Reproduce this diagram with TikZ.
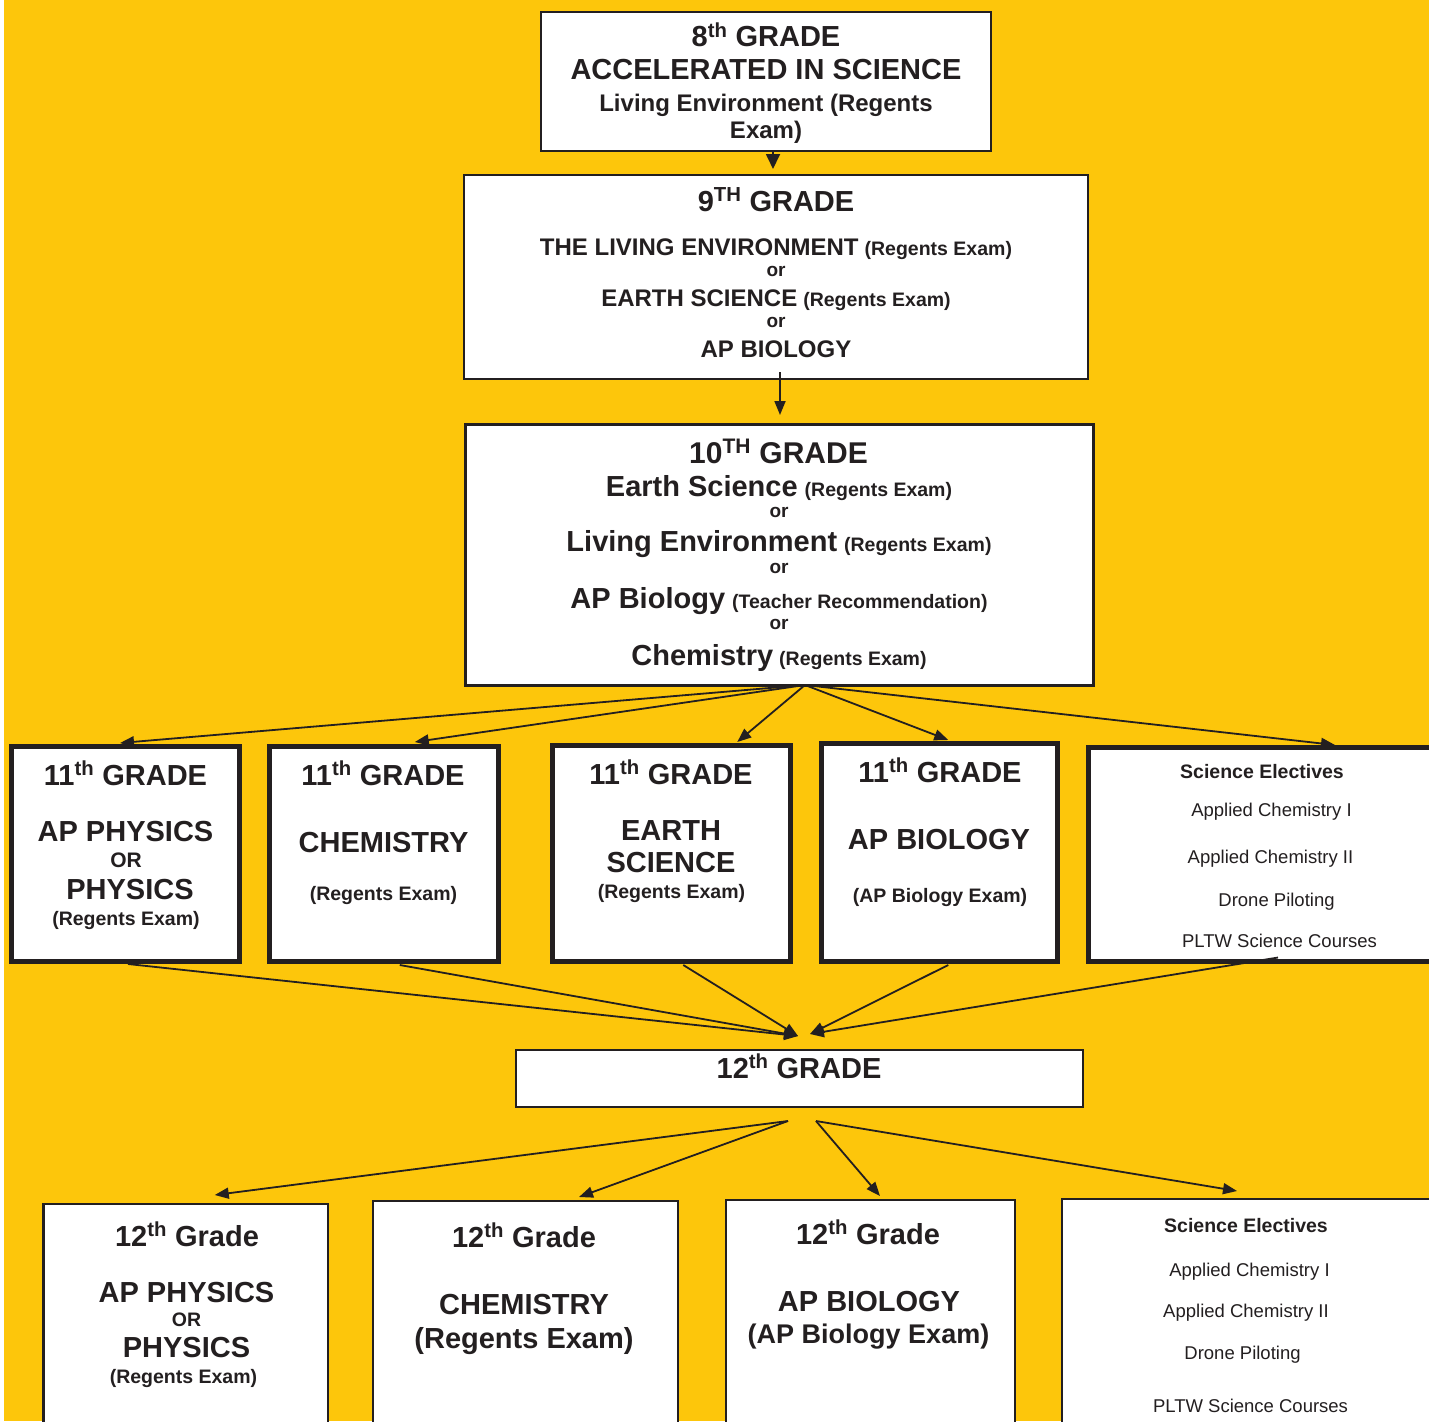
\documentclass[tikz,border=0pt]{standalone}
\usepackage{fontspec}
\setmainfont{Liberation Sans}
\usepackage{graphicx}
\usetikzlibrary{arrows.meta}
\definecolor{bgyellow}{RGB}{253,198,11}
\definecolor{ink}{RGB}{35,31,32}
\newcommand\fsz[1]{\fontsize{#1}{#1}\selectfont}
\begin{document}
\begin{tikzpicture}[x=1pt,y=-1pt,
  box/.style={draw=ink, fill=white, inner sep=0pt, outer sep=0pt, anchor=north west},
  thinbox/.style={box, line width=1.3pt},
  midbox/.style={box, line width=3pt},
  thickbox/.style={box, line width=5pt},
  lowbox/.style={box, line width=2.5pt},
  t/.style={anchor=base, inner sep=0pt, text=ink},
  conn/.style={draw=ink, line width=1.8pt, -{Triangle[length=14pt,width=11pt]}}
]
\useasboundingbox (0,0) rectangle (1429,1421);
\clip (0,0) rectangle (1429,1421);
\fill[white] (0,0) rectangle (1429,1421);
\fill[bgyellow] (4,0) rectangle (1429,1421);

% boxes
\node[thinbox, minimum width=450pt, minimum height=139pt] (b8) at (541,12) {};
\node[thinbox, minimum width=624pt, minimum height=204pt] (b9) at (464,175) {};
\node[midbox, minimum width=628pt, minimum height=261pt] (b10) at (465,424) {};
\node[thickbox, minimum width=228pt, minimum height=214.5pt] (b11a) at (11.5,746.5) {};
\node[thickbox, minimum width=228.5pt, minimum height=214.5pt] (b11b) at (269.5,746.5) {};
\node[thickbox, minimum width=238.5pt, minimum height=216pt] (b11c) at (552,745) {};
\node[thickbox, minimum width=235.5pt, minimum height=218pt] (b11d) at (821.5,743) {};
\node[thickbox, minimum width=360pt, minimum height=214pt] (b11e) at (1088,747.5) {};
\node[thinbox, minimum width=567pt, minimum height=57pt] (b12) at (516,1050) {};
\node[lowbox, minimum width=284.5pt, minimum height=240pt] (b13a) at (43.5,1204) {};
\node[lowbox, minimum width=305pt, minimum height=240pt] (b13b) at (373,1201) {};
\node[lowbox, minimum width=289pt, minimum height=240pt] (b13c) at (726,1200) {};
\node[lowbox, minimum width=380pt, minimum height=240pt] (b13d) at (1062,1199) {};

% connectors
\draw[conn,-{Triangle[length=15pt,width=14pt]}] ([xshift=7pt]b8.south) -- ([xshift=-3pt,yshift=6pt]b9.north);
\draw[conn] ([xshift=4pt,yshift=7pt]b9.south) -- ([xshift=1pt,yshift=9pt]b10.north);

\coordinate (s10) at ([xshift=26pt]b10.south);
\draw[conn] (s10) -- ([xshift=-5.5pt,yshift=3.5pt]b11a.north);
\draw[conn] (s10) -- ([xshift=31pt,yshift=4.5pt]b11b.north);
\draw[conn] (s10) -- ([xshift=66pt,yshift=3pt]b11c.north);
\draw[conn] (s10) -- ([xshift=9pt,yshift=3pt]b11d.north);
\draw[conn] (s10) -- ([xshift=247pt,yshift=2.5pt]b11e.north west);

\coordinate (t12a) at ([xshift=-1.5pt,yshift=14pt]b12.north);
\coordinate (t12b) at ([xshift=10.5pt,yshift=16pt]b12.north);
\draw[conn] ([xshift=2.5pt,yshift=-3pt]b11a.south) -- (t12a);
\draw[conn] ([xshift=16pt,yshift=-4pt]b11b.south) -- (t12a);
\draw[conn] ([xshift=12pt,yshift=-4pt]b11c.south) -- (t12a);
\draw[conn] ([xshift=9pt,yshift=-4pt]b11d.south) -- (t12b);
\draw[conn] ([xshift=190pt,yshift=4pt]b11e.south west) -- (t12b);

\coordinate (s12a) at ([xshift=-11.5pt,yshift=-14pt]b12.south);
\coordinate (s12b) at ([xshift=16.5pt,yshift=-14pt]b12.south);
\draw[conn] (s12a) -- ([xshift=29pt,yshift=9pt]b13a.north);
\draw[conn] (s12a) -- ([xshift=53.5pt,yshift=4pt]b13b.north);
\draw[conn] (s12b) -- ([xshift=9.5pt,yshift=4pt]b13c.north);
\draw[conn] (s12b) -- ([xshift=175pt,yshift=8pt]b13d.north west);

% 8th grade text
\node[t,font=\bfseries\fsz{29}] (l8a) at (766,47) {8\textsuperscript{th} GRADE};
\node[t,font=\bfseries\fsz{29}] (l8b) at (766,80) {ACCELERATED IN SCIENCE};
\node[t,font=\bfseries\fsz{24}] (l8c) at (766,111) {Living Environment (Regents};
\node[t,font=\bfseries\fsz{24}] (l8d) at (766,138) {Exam)};

% 9th grade text
\node[t,font=\bfseries\fsz{29}] (l9a) at (776,211) {9\textsuperscript{TH} GRADE};
\node[t,font=\bfseries] (l9b) at (776,255) {{\fsz{24}THE LIVING ENVIRONMENT}\hspace{6pt}{\fsz{19.5}(Regents Exam)}};
\node[t,font=\bfseries\fsz{19}] (l9c) at (776,276) {or};
\node[t,font=\bfseries] (l9d) at (776,306) {{\fsz{24}EARTH SCIENCE}\hspace{6pt}{\fsz{19.5}(Regents Exam)}};
\node[t,font=\bfseries\fsz{19}] (l9e) at (776,327) {or};
\node[t,font=\bfseries\fsz{24}] (l9f) at (776,357) {AP BIOLOGY};

% 10th grade text
\node[t,font=\bfseries\fsz{30}] (l10a) at (778.5,463) {10\textsuperscript{TH} GRADE};
\node[t,font=\bfseries] (l10b) at (779,496) {{\fsz{29}Earth Science}\hspace{7pt}{\fsz{19.5}(Regents Exam)}};
\node[t,font=\bfseries\fsz{19}] (l10c) at (779,517) {or};
\node[t,font=\bfseries] (l10d) at (779,551) {{\fsz{29}Living Environment}\hspace{7pt}{\fsz{19.5}(Regents Exam)}};
\node[t,font=\bfseries\fsz{19}] (l10e) at (779,573) {or};
\node[t,font=\bfseries] (l10f) at (779,608) {{\fsz{29}AP Biology}\hspace{7pt}{\fsz{19.5}(Teacher Recommendation)}};
\node[t,font=\bfseries\fsz{19}] (l10g) at (779,629) {or};
\node[t,font=\bfseries] (l10h) at (779,665) {{\fsz{29}Chemistry}\hspace{6pt}{\fsz{19.5}(Regents Exam)}};

% 11th grade A
\node[t,font=\bfseries\fsz{29}] (l11a1) at (125.5,785) {11\textsuperscript{th} GRADE};
\node[t,font=\bfseries\fsz{29}] (l11a2) at (125.5,841) {AP PHYSICS};
\node[t,font=\bfseries\fsz{21}] (l11a3) at (126,867) {OR};
\node[t,font=\bfseries\fsz{29}] (l11a4) at (130,899) {PHYSICS};
\node[t,font=\bfseries\fsz{19.5}] (l11a5) at (126,925) {(Regents Exam)};
% 11th grade B
\node[t,font=\bfseries\fsz{29}] (l11b1) at (383,785) {11\textsuperscript{th} GRADE};
\node[t,font=\bfseries\fsz{29}] (l11b2) at (383.5,852) {CHEMISTRY};
\node[t,font=\bfseries\fsz{19.5}] (l11b3) at (383.5,900) {(Regents Exam)};
% 11th grade C
\node[t,font=\bfseries\fsz{29}] (l11c1) at (671,784) {11\textsuperscript{th} GRADE};
\node[t,font=\bfseries\fsz{29}] (l11c2) at (671,840) {EARTH};
\node[t,font=\bfseries\fsz{29}] (l11c3) at (671,872) {SCIENCE};
\node[t,font=\bfseries\fsz{19.5}] (l11c4) at (671.5,898) {(Regents Exam)};
% 11th grade D
\node[t,font=\bfseries\fsz{29}] (l11d1) at (940,782) {11\textsuperscript{th} GRADE};
\node[t,font=\bfseries\fsz{29}] (l11d2) at (939,849) {AP BIOLOGY};
\node[t,font=\bfseries\fsz{19.5}] (l11d3) at (940,902) {(AP Biology Exam)};
% 11th electives
\node[t,font=\bfseries\fsz{19.5}] (l11e1) at (1262,778) {Science Electives};
\node[t,font=\fsz{18.5}] (l11e2) at (1271.5,816) {Applied Chemistry I};
\node[t,font=\fsz{18.5}] (l11e3) at (1270.5,863) {Applied Chemistry II};
\node[t,font=\fsz{18.5}] (l11e4) at (1276.5,906) {Drone Piloting};
\node[t,font=\fsz{18.5}] (l11e5) at (1279.5,947) {PLTW Science Courses};

% 12th grade
\node[t,font=\bfseries\fsz{29}] (l12) at (799,1078) {12\textsuperscript{th} GRADE};

% bottom A
\node[t,font=\bfseries\fsz{29}] (l13a1) at (187,1246) {12\textsuperscript{th} Grade};
\node[t,font=\bfseries\fsz{29}] (l13a2) at (186.5,1302) {AP PHYSICS};
\node[t,font=\bfseries\fsz{19.5}] (l13a3) at (186.5,1326) {OR};
\node[t,font=\bfseries\fsz{29}] (l13a4) at (186.5,1357) {PHYSICS};
\node[t,font=\bfseries\fsz{19.5}] (l13a5) at (183.5,1383) {(Regents Exam)};
% bottom B
\node[t,font=\bfseries\fsz{29}] (l13b1) at (524,1247) {12\textsuperscript{th} Grade};
\node[t,font=\bfseries\fsz{29}] (l13b2) at (524,1314) {CHEMISTRY};
\node[t,font=\bfseries\fsz{29}] (l13b3) at (524,1348) {(Regents Exam)};
% bottom C
\node[t,font=\bfseries\fsz{29}] (l13c1) at (868,1244) {12\textsuperscript{th} Grade};
\node[t,font=\bfseries\fsz{29}] (l13c2) at (869,1311) {AP BIOLOGY};
\node[t,font=\bfseries\fsz{27}] (l13c3) at (868.5,1343) {(AP Biology Exam)};
% bottom electives
\node[t,font=\bfseries\fsz{19.5}] (l13d1) at (1246,1232) {Science Electives};
\node[t,font=\fsz{18.5}] (l13d2) at (1249.5,1276) {Applied Chemistry I};
\node[t,font=\fsz{18.5}] (l13d3) at (1246,1317) {Applied Chemistry II};
\node[t,font=\fsz{18.5}] (l13d4) at (1242.5,1359) {Drone Piloting};
\node[t,font=\fsz{18.5}] (l13d5) at (1250.5,1412) {PLTW Science Courses};
\end{tikzpicture}
\end{document}
